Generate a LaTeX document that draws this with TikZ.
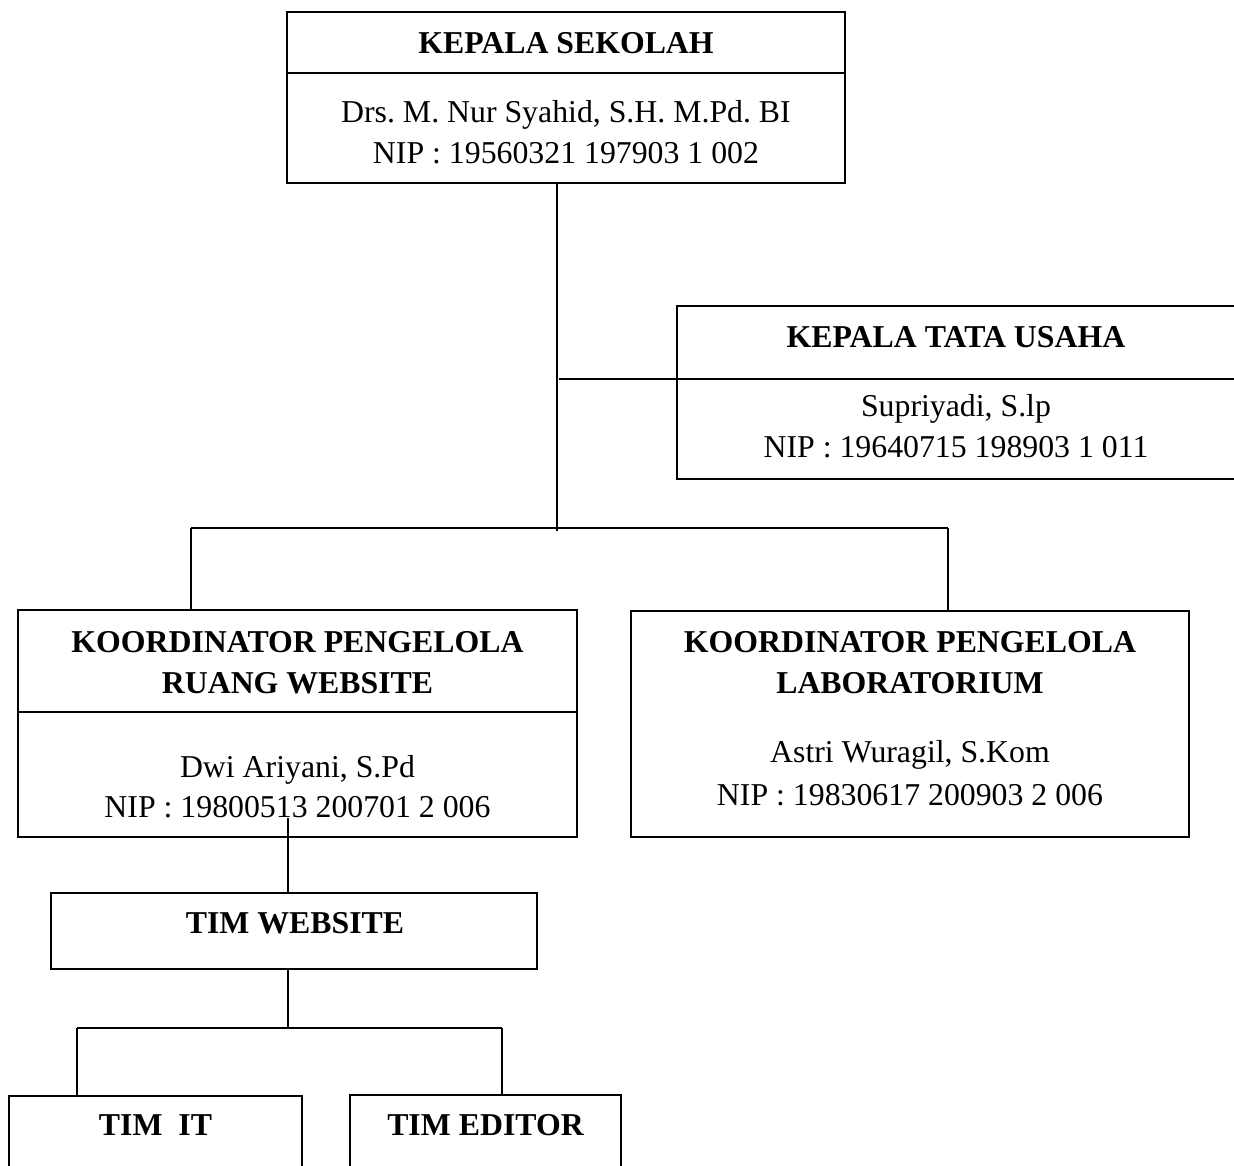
\documentclass[tikz,border=0pt]{standalone}
\usepackage{fontspec}
\setmainfont{Liberation Serif}
\frenchspacing
\begin{document}
\begin{tikzpicture}[x=1pt,y=-1pt,
  frame/.style={draw=black, line width=1.8pt, rectangle, inner sep=0pt, outer sep=0pt},
  link/.style={draw=black, line width=1.6pt},
  head/.style={font=\fontsize{31.8}{38}\selectfont\bfseries, anchor=base, inner sep=0pt},
  body/.style={font=\fontsize{31.8}{38}\selectfont, anchor=base, inner sep=0pt}]
\useasboundingbox (0,0) rectangle (1234,1165);
\clip (0,0) rectangle (1234,1165);

% boxes
\node[frame, minimum width=558pt, minimum height=171pt] (ks)   at (566,97.5)    {};
\node[frame, minimum width=573pt, minimum height=173pt] (ktu)  at (963.5,392.5) {};
\node[frame, minimum width=559pt, minimum height=227pt] (kprw) at (297.5,723.5) {};
\node[frame, minimum width=558pt, minimum height=226pt] (lab)  at (910,724)     {};
\node[frame, minimum width=486pt, minimum height=76pt]  (tw)   at (294,931)     {};
\node[frame, minimum width=293pt, minimum height=104pt] (it)   at (155.5,1148)  {};
\node[frame, minimum width=271pt, minimum height=105pt] (ed)   at (485.5,1147.5){};

% dividers between title and name rows
\coordinate (ksdiv) at (0,73);
\coordinate (kprwdiv) at (0,712);
\draw[link] (ks.west |- ksdiv) -- (ks.east |- ksdiv);
\draw[link] (kprw.west |- kprwdiv) -- (kprw.east |- kprwdiv);

% texts
\node[head] (ksT)  at (566,53)  {KEPALA SEKOLAH};
\node[body] (ksN)  at (566,122) {Drs. M. Nur Syahid, S.H. M.Pd. BI};
\node[body] (ksP)  at (566,163) {NIP : 19560321 197903 1 002};

\node[head] (ktuT) at (956,347) {KEPALA TATA USAHA};
\node[body] (ktuN) at (956,416) {Supriyadi, S.lp};
\node[body] (ktuP) at (956,457) {NIP : 19640715 198903 1 011};

\node[head] (kprwT1) at (297.5,652) {KOORDINATOR PENGELOLA};
\node[head] (kprwT2) at (297.5,693) {RUANG WEBSITE};
\node[body] (kprwN)  at (297.5,777) {Dwi Ariyani, S.Pd};
\node[body] (kprwP)  at (297.5,817) {NIP : 19800513 200701 2 006};

\node[head] (labT1) at (910,652) {KOORDINATOR PENGELOLA};
\node[head] (labT2) at (910,693) {LABORATORIUM};
\node[body] (labN)  at (910,762) {Astri Wuragil, S.Kom};
\node[body] (labP)  at (910,805) {NIP : 19830617 200903 2 006};

\node[head] (twT) at (295,933)    {TIM WEBSITE};
\node[head] (itT) at (155.5,1135) {TIM\ \ IT};
\node[head] (edT) at (485.5,1135) {TIM EDITOR};

% connectors
\coordinate (trunk) at (557,531);
\coordinate (busL) at (191,528);
\coordinate (busR) at (948,528);
\coordinate (ktuJ) at (559,379);
\draw[link] (ks.south -| trunk) -- (trunk);
\draw[link] (busL) -- (busR);
\draw[link] (busL) -- (kprw.north -| busL);
\draw[link] (busR) -- (lab.north -| busR);
\draw[link] (ktuJ) -- (ktu.east |- ktuJ);

\coordinate (twJ) at (288,818);
\coordinate (bus2) at (288,1028);
\coordinate (bus2L) at (77,1028);
\coordinate (bus2R) at (502,1028);
\draw[link] (twJ) -- (tw.north -| twJ);
\draw[link] (tw.south -| bus2) -- (bus2);
\draw[link] (bus2L) -- (bus2R);
\draw[link] (bus2L) -- (it.north -| bus2L);
\draw[link] (bus2R) -- (ed.north -| bus2R);
\end{tikzpicture}
\end{document}
